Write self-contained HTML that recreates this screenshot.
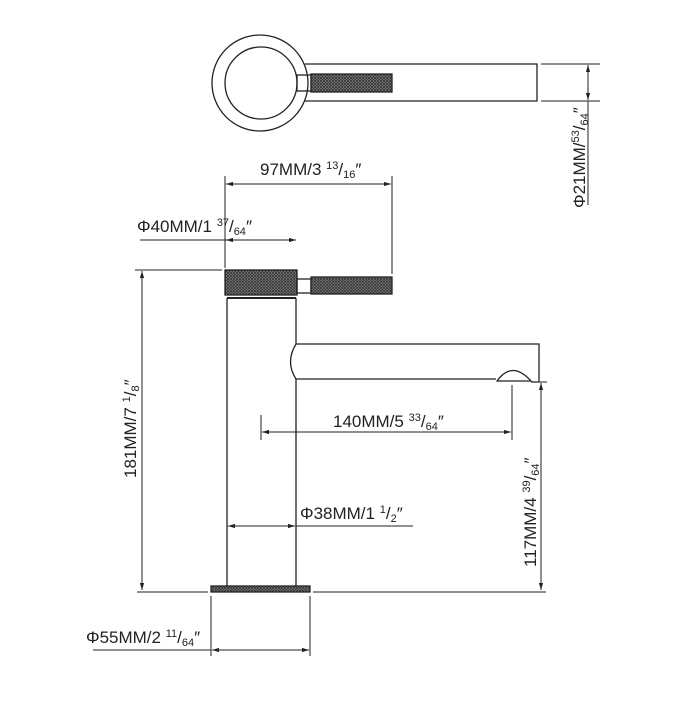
<!DOCTYPE html>
<html><head><style>html,body{margin:0;padding:0;background:#fff}</style></head><body>
<svg width="700" height="700" viewBox="0 0 700 700" xmlns="http://www.w3.org/2000/svg" font-family="Liberation Sans, sans-serif" font-size="17" fill="#222">
<defs>
<pattern id="k" width="3" height="3" patternUnits="userSpaceOnUse">
<rect width="3" height="3" fill="#8a8a8a"/>
<path d="M0 0L3 3M3 0L0 3" stroke="#333" stroke-width="0.8"/>
</pattern>
<marker id="a" viewBox="0 0 10 10" refX="10" refY="5" markerWidth="7" markerHeight="7" orient="auto-start-reverse"><path d="M0 2L10 5L0 8z" fill="#222"/></marker>
</defs>
<g stroke="#222" fill="none" stroke-width="1.3">
<circle cx="260" cy="83" r="48"/>
<circle cx="261" cy="83" r="36"/>
<path d="M305 64H537V101H305"/>
<rect x="297" y="75" width="14" height="16"/>
<rect x="311" y="74" width="81" height="18" fill="url(#k)"/>
<path d="M541 64H600M541 101H600" stroke-width="1"/>
<path d="M588 65V100" marker-start="url(#a)" marker-end="url(#a)" stroke-width="1"/>
<path d="M588 101V205" stroke-width="1"/>
<rect x="225" y="270" width="72" height="25" fill="url(#k)"/>
<path d="M227 298H296" stroke-width="2"/>
<rect x="297" y="279" width="14" height="14"/>
<rect x="311" y="277" width="81" height="17" fill="url(#k)"/>
<path d="M227 298V590M296 298V344M296 379V590"/>
<path d="M296 344H539V382H531M496 379H296Q285 362 296 344"/>
<path d="M497 381Q512 360 531 381Z"/>
<rect x="211" y="586" width="99" height="6" fill="url(#k)"/>
<g stroke-width="1">
<path d="M137 592H208M313 592H546"/>
<path d="M225 176V268M392 176V274"/>
<path d="M226 184H391" marker-start="url(#a)" marker-end="url(#a)"/>
<path d="M140 240H296" />
<path d="M260 240H226" marker-end="url(#a)"/><path d="M262 240H296" marker-end="url(#a)"/>
<path d="M135 270H222"/>
<path d="M142 271V590" marker-start="url(#a)" marker-end="url(#a)"/>
<path d="M531 382H547"/>
<path d="M541 383V590" marker-start="url(#a)" marker-end="url(#a)"/>
<path d="M512 385V440M261 415V440"/>
<path d="M262 432H511" marker-start="url(#a)" marker-end="url(#a)"/>
<path d="M228 526H295" marker-start="url(#a)" marker-end="url(#a)"/>
<path d="M296 526H413"/>
<path d="M211 596V656M310 596V656"/>
<path d="M93 650H211"/>
<path d="M212 650H309" marker-start="url(#a)" marker-end="url(#a)"/>
</g>
</g>
<g stroke="none">
<text x="260" y="175">97MM/3 <tspan font-size="11" dy="-6">13</tspan><tspan dy="6">/</tspan><tspan font-size="11" dy="3">16</tspan><tspan dy="-3">″</tspan></text>
<text x="137" y="232">Φ40MM/1 <tspan font-size="11" dy="-6">37</tspan><tspan dy="6">/</tspan><tspan font-size="11" dy="3">64</tspan><tspan dy="-3">″</tspan></text>
<text x="333" y="427">140MM/5 <tspan font-size="11" dy="-6">33</tspan><tspan dy="6">/</tspan><tspan font-size="11" dy="3">64</tspan><tspan dy="-3">″</tspan></text>
<text x="300" y="519">Φ38MM/1 <tspan font-size="11" dy="-6">1</tspan><tspan dy="6">/</tspan><tspan font-size="11" dy="3">2</tspan><tspan dy="-3">″</tspan></text>
<text x="86" y="643">Φ55MM/2 <tspan font-size="11" dy="-6">11</tspan><tspan dy="6">/</tspan><tspan font-size="11" dy="3">64</tspan><tspan dy="-3">″</tspan></text>
<text transform="translate(136,478) rotate(-90)">181MM/7 <tspan font-size="11" dy="-6">1</tspan><tspan dy="6">/</tspan><tspan font-size="11" dy="3">8</tspan><tspan dy="-3">″</tspan></text>
<text transform="translate(536,567) rotate(-90)">117MM/4 <tspan font-size="11" dy="-6">39</tspan><tspan dy="6">/</tspan><tspan font-size="11" dy="3">64</tspan><tspan dy="-3">″</tspan></text>
<text transform="translate(585,208) rotate(-90)">Φ21MM/<tspan font-size="11" dy="-6">53</tspan><tspan dy="6">/</tspan><tspan font-size="11" dy="3">64</tspan><tspan dy="-3">″</tspan></text>
</g>
</svg>
</body></html>
